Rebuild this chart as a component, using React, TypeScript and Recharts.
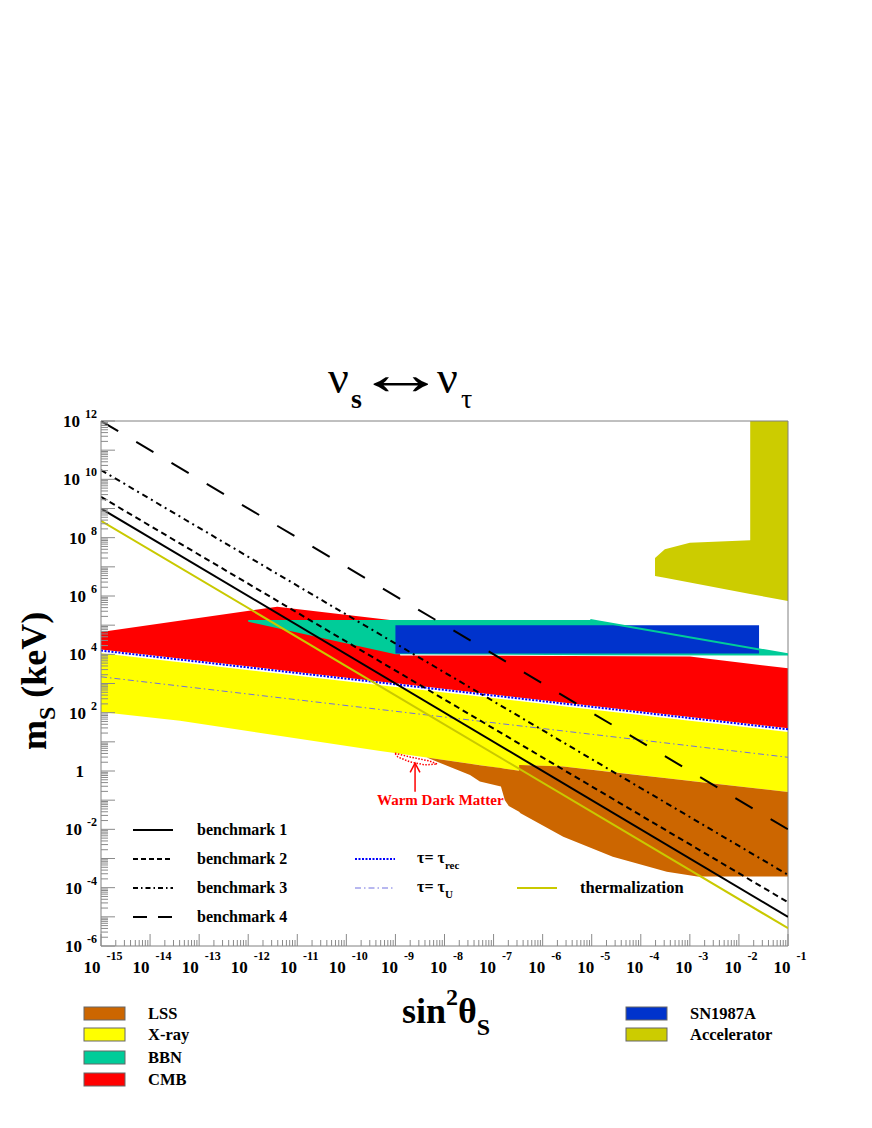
import React from 'react'
import { ComposedChart, Area, Line, XAxis, YAxis, ReferenceLine } from 'recharts'

// every value is a log10: x = log10(sin^2 theta_S), y = log10(m_S / keV)
const xDecades = [-15, -14, -13, -12, -11, -10, -9, -8, -7, -6, -5, -4, -3, -2, -1]
const yDecades = [-6, -5, -4, -3, -2, -1, 0, 1, 2, 3, 4, 5, 6, 7, 8, 9, 10, 11, 12]
const yLabelled = [-6, -4, -2, 0, 2, 4, 6, 8, 10, 12]

// excluded regions, [x, lower, upper]
const cmb: [number, number, number][] = [
  [-15, 4.17, 4.77],
  [-11.41, 3.47, 5.63],
  [-9.11, 3.03, 5.18],
  [-8.9, 2.99, 3.96],
  [-3.0, 1.85, 3.93],
  [-1, 1.47, 3.52],
]
const xray: [number, number, number][] = [
  [-15, 2.02, 4.04],
  [-13.39, 1.72, 3.73],
  [-9.31, 0.69, 2.94],
  [-8.36, 0.46, 2.76],
  [-6.48, 0.01, 2.4],
  [-6.48, 0.21, 2.4],
  [-5.58, 0.155, 2.22],
  [-1, -0.72, 1.34],
]
const lss: [number, number, number][] = [
  [-8.36, 0.46, 0.46],
  [-7.48, -0.14, 0.25],
  [-7.28, -0.36, 0.2],
  [-6.85, -0.53, 0.1],
  [-6.77, -1.0, 0.08],
  [-6.69, -1.2, 0.06],
  [-6.48, -1.4, 0.01],
  [-6.48, -1.4, 0.21],
  [-6.45, -1.45, 0.208],
  [-5.58, -2.25, 0.155],
  [-4.57, -2.94, -0.04],
  [-3.47, -3.45, -0.25],
  [-2.85, -3.62, -0.37],
  [-1, -3.62, -0.72],
]
const bbn: [number, number, number][] = [
  [-12, 5.12, 5.18],
  [-9, 4.0, 5.18],
  [-5.03, 3.97, 5.18],
  [-1, 3.96, 4.0],
]
const sn1987a: [number, number, number][] = [
  [-9.0, 4.03, 5.0],
  [-1.59, 4.03, 5.0],
]
const accelerator: [number, number, number][] = [
  [-3.71, 6.69, 7.3],
  [-3.51, 6.63, 7.6],
  [-3.0, 6.46, 7.83],
  [-1.77, 6.07, 7.91],
  [-1.77, 6.07, 12],
  [-1, 5.83, 12],
]

// curves, [x, y]
const bbnEdge: [number, number][] = [[-5.03, 5.18], [-1, 4.0]]
const bench1: [number, number][] = [[-15, 9.0], [-1, -5.0]]
const bench2: [number, number][] = [[-15, 9.4], [-1, -4.5]]
const bench3: [number, number][] = [[-15, 10.32], [-1, -3.56]]
const bench4: [number, number][] = [[-15, 12], [-1, -2]]
const thermal: [number, number][] = [[-15, 8.58], [-1, -5.39]]
const tauRec: [number, number][] = [[-15, 4.13], [-1, 1.43]]
const tauU: [number, number][] = [[-15, 3.23], [-1, 0.47]]
const wdm: [number, number][] = [
  [-9.01, 0.61], [-8.7, 0.48], [-8.3, 0.34], [-8.15, 0.24],
  [-8.4, 0.21], [-8.7, 0.31], [-8.95, 0.48], [-9.01, 0.61],
]
const arrowShaft: [number, number][] = [[-8.6, -0.71], [-8.6, 0.26]]
const arrowHead: [number, number][] = [[-8.7, -0.05], [-8.6, 0.27], [-8.5, -0.05]]

const SERIF = '"Liberation Serif", "Times New Roman", serif'

const toRange = (pts: [number, number, number][]) => pts.map(([x, lo, hi]) => ({ x, r: [lo, hi] }))
const toLine = (pts: [number, number][]) => pts.map(([x, y]) => ({ x, y }))
const withMinor = (decades: number[]) =>
  decades.flatMap((d, i) =>
    i === decades.length - 1 ? [d] : [d, ...[2, 3, 4, 5, 6, 7, 8, 9].map((k) => d + Math.log10(k))]
  )
const isMajor = (v: number) => Math.abs(v - Math.round(v)) < 1e-6

const XTick = (props: any) => {
  const { x, y, payload } = props
  const v = payload.value
  const major = isMajor(v)
  return (
    <g>
      <line x1={x} y1={y} x2={x} y2={y - (major ? 12 : 6)} stroke='#8a8a8a' />
      {major && (
        <text x={x + 2} y={y + 27} textAnchor='middle' fontFamily={SERIF} fontWeight='bold' fontSize={17} fill='#000'>
          10
          <tspan dx={6} dy={-13} fontSize={12}>{Math.round(v)}</tspan>
        </text>
      )}
    </g>
  )
}

const YTick = (props: any) => {
  const { x, y, payload } = props
  const v = payload.value
  const major = isMajor(v)
  const n = Math.round(v)
  return (
    <g>
      <line x1={x} y1={y} x2={x + (major ? 14 : 7)} y2={y} stroke='#8a8a8a' />
      {major && yLabelled.includes(n) && (
        n === 0 ? (
          <text x={x - 17} y={y + 6} textAnchor='end' fontFamily={SERIF} fontWeight='bold' fontSize={17} fill='#000'>1</text>
        ) : (
          <text x={x - 4} y={y + 6} textAnchor='end' fontFamily={SERIF} fontWeight='bold' fontSize={17} fill='#000'>
            10
            <tspan dx={5} dy={-9} fontSize={12}>{n}</tspan>
          </text>
        )
      )}
    </g>
  )
}

const regions = [
  { name: 'CMB', pts: cmb, color: '#ff0000' },
  { name: 'X-ray', pts: xray, color: '#ffff00' },
  { name: 'LSS', pts: lss, color: '#cc6600' },
  { name: 'BBN', pts: bbn, color: '#00cc99' },
  { name: 'SN1987A', pts: sn1987a, color: '#0033cc' },
  { name: 'Accelerator', pts: accelerator, color: '#cccc00' },
]

const curves = [
  { name: 'bbnEdge', pts: bbnEdge, color: '#00cc99', width: 2, dash: undefined },
  { name: 'tauRec', pts: tauRec, color: '#0000ff', width: 2, dash: '2 1.5' },
  { name: 'tauU', pts: tauU, color: '#7070e0', width: 1, dash: '6 3 1.5 3' },
  { name: 'wdm', pts: wdm, color: '#ff0000', width: 1.5, dash: '1.5 1.5' },
  { name: 'arrowShaft', pts: arrowShaft, color: '#ff0000', width: 1.5, dash: undefined },
  { name: 'arrowHead', pts: arrowHead, color: '#ff0000', width: 1.5, dash: undefined },
  { name: 'thermal', pts: thermal, color: '#c9c900', width: 2, dash: undefined },
  { name: 'bench1', pts: bench1, color: '#000', width: 2, dash: undefined },
  { name: 'bench2', pts: bench2, color: '#000', width: 2, dash: '6 4' },
  { name: 'bench3', pts: bench3, color: '#000', width: 2, dash: '6 4 2 4' },
  { name: 'bench4', pts: bench4, color: '#000', width: 2, dash: '20 21' },
]

const lineKey = [
  { label: 'benchmark 1', x: 133, y: 830, color: '#000', width: 2, dash: undefined },
  { label: 'benchmark 2', x: 133, y: 859, color: '#000', width: 2, dash: '5 3' },
  { label: 'benchmark 3', x: 133, y: 888, color: '#000', width: 2, dash: '5 3 1.5 3' },
  { label: 'benchmark 4', x: 133, y: 917, color: '#000', width: 2, dash: '14 11' },
]

const boxKey = [
  { label: 'LSS', x: 84, y: 1007, color: '#cc6600' },
  { label: 'X-ray', x: 84, y: 1028, color: '#ffff00' },
  { label: 'BBN', x: 84, y: 1051, color: '#00cc99' },
  { label: 'CMB', x: 84, y: 1073, color: '#ff0000' },
  { label: 'SN1987A', x: 626, y: 1007, color: '#0033cc' },
  { label: 'Accelerator', x: 626, y: 1028, color: '#cccc00' },
]

const Overlay = () => (
  <svg width={872} height={1128} style={{ position: 'absolute', left: 0, top: 0, pointerEvents: 'none' }}>
    <text x={328} y={393} fontFamily={SERIF} fontSize={46} fill='#000'>
      <tspan x={328}>ν</tspan>
      <tspan x={351} dy={15} fontSize={28} fontWeight='bold'>s</tspan>
      <tspan x={437} dy={-15}>ν</tspan>
      <tspan x={461} dy={15} fontSize={28}>τ</tspan>
    </text>
    <text transform='translate(355,394) scale(2.0,1.3)' fontFamily={SERIF} fontSize={46} fill='#000'>↔</text>
    <text transform='translate(46,750) rotate(-90)' fontFamily={SERIF} fontWeight='bold' fontSize={36} fill='#000'>
      m<tspan dy={9} fontSize={24}>S</tspan>
      <tspan dy={-9}> (keV)</tspan>
    </text>
    <text x={402} y={1023} fontFamily={SERIF} fontWeight='bold' fontSize={36} fill='#000'>
      sin<tspan dy={-18} fontSize={24}>2</tspan>
      <tspan dy={18}>θ</tspan>
      <tspan dy={12} fontSize={24}>S</tspan>
    </text>
    <text x={377} y={805} fontFamily={SERIF} fontWeight='bold' fontSize={15} fill='#ff0000'>Warm Dark Matter</text>

    {lineKey.map((k) => (
      <g key={k.label}>
        <line x1={k.x} x2={k.x + 40} y1={k.y} y2={k.y} stroke={k.color} strokeWidth={k.width} strokeDasharray={k.dash} />
        <text x={197} y={k.y + 5} fontFamily={SERIF} fontWeight='bold' fontSize={16} fill='#000'>{k.label}</text>
      </g>
    ))}
    <line x1={355} x2={395} y1={859} y2={859} stroke='#0000ff' strokeWidth={2} strokeDasharray='2 1.5' />
    <text x={417} y={863} fontFamily={SERIF} fontWeight='bold' fontSize={16} fill='#000'>
      τ= τ<tspan dy={6} fontSize={11}>rec</tspan>
    </text>
    <line x1={355} x2={395} y1={888} y2={888} stroke='#7070e0' strokeWidth={1} strokeDasharray='6 3 1.5 3' />
    <text x={417} y={892} fontFamily={SERIF} fontWeight='bold' fontSize={16} fill='#000'>
      τ= τ<tspan dy={6} fontSize={11}>U</tspan>
    </text>
    <line x1={517} x2={557} y1={888} y2={888} stroke='#c9c900' strokeWidth={2} />
    <text x={580} y={893} fontFamily={SERIF} fontWeight='bold' fontSize={16.5} fill='#000'>thermalization</text>

    {boxKey.map((k) => (
      <g key={k.label}>
        <rect x={k.x} y={k.y} width={41} height={13} fill={k.color} stroke='#666' strokeWidth={1} />
        <text x={k.x + 64} y={k.y + 12} fontFamily={SERIF} fontWeight='bold' fontSize={16.5} fill='#000'>{k.label}</text>
      </g>
    ))}
  </svg>
)

const App = () => (
  <div style={{ position: 'absolute', left: 0, top: 0, width: 872, height: 1128, background: '#fff' }}>
    <ComposedChart width={872} height={1128} margin={{ top: 421, right: 84, bottom: 142, left: 41 }}>
      <XAxis
        type='number'
        dataKey='x'
        domain={[-15, -1]}
        ticks={withMinor(xDecades)}
        interval={0}
        allowDataOverflow
        tickSize={0}
        tickMargin={0}
        tickLine={false}
        tick={<XTick />}
        axisLine={{ stroke: '#808080' }}
        height={40}
      />
      <YAxis
        type='number'
        domain={[-6, 12]}
        ticks={withMinor(yDecades)}
        interval={0}
        allowDataOverflow
        tickSize={0}
        tickMargin={0}
        tickLine={false}
        tick={<YTick />}
        axisLine={{ stroke: '#808080' }}
        width={60}
      />
      <ReferenceLine y={12} stroke='#808080' />
      <ReferenceLine x={-1} stroke='#808080' />
      {regions.map((r) => (
        <Area
          key={r.name}
          data={toRange(r.pts)}
          dataKey='r'
          type='linear'
          fill={r.color}
          fillOpacity={1}
          stroke='none'
          dot={false}
          activeDot={false}
          isAnimationActive={false}
        />
      ))}
      {curves.map((c) => (
        <Line
          key={c.name}
          data={toLine(c.pts)}
          dataKey='y'
          type='linear'
          stroke={c.color}
          strokeWidth={c.width}
          strokeDasharray={c.dash}
          dot={false}
          activeDot={false}
          isAnimationActive={false}
        />
      ))}
    </ComposedChart>
    <Overlay />
  </div>
)

export default App
